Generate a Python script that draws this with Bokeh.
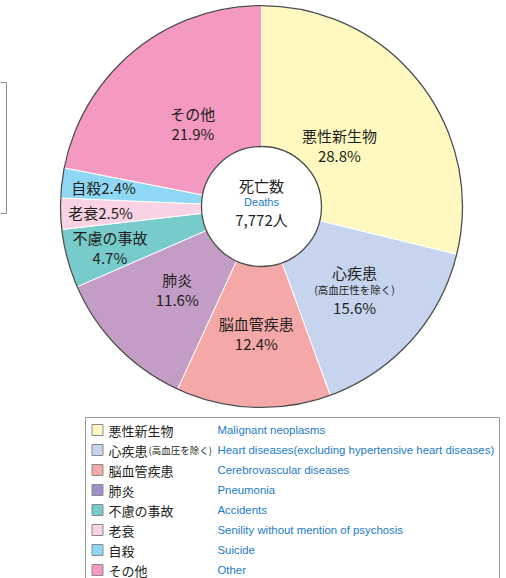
import numpy as np
from bokeh.plotting import figure
from bokeh.models import Range1d
from bokeh.core.properties import value
from bokeh.embed import file_html
from bokeh.resources import INLINE

# ---------------- data ----------------
causes_ja = ["悪性新生物", "心疾患", "脳血管疾患", "肺炎", "不慮の事故", "老衰", "自殺", "その他"]
causes_en = ["Malignant neoplasms",
             "Heart diseases(excluding hypertensive heart diseases)",
             "Cerebrovascular diseases", "Pneumonia", "Accidents",
             "Senility without mention of psychosis", "Suicide", "Other"]
heart_note_pie = "(高血圧性を除く)"
heart_note_legend = "(高血圧を除く)"
shares = [28.8, 15.6, 12.4, 11.6, 4.7, 2.5, 2.4, 21.9]
center_title = "死亡数"
center_title_en = "Deaths"
center_total = "7,772人"

# ---------------- styles ----------------
pie_colors = ["#fff9c1", "#c6d4ee", "#f5a8a8", "#c49dc7", "#77cbcb", "#f9d2e3", "#8ed8f6", "#f49ac2"]
legend_colors = ["#fff9c1", "#c6d4ee", "#f5a8a8", "#9c90c8", "#77cbcb", "#f9d2e3", "#8ed8f6", "#f49ac2"]
JP = value("Noto Sans CJK JP")
EN = value("Liberation Sans")
TXT = "#231f20"
BLUE = "#1a7bc8"

W, H = 506, 578
def Y(px):
    return H - px

p = figure(width=W, height=H, output_backend="svg", toolbar_location=None,
           x_range=Range1d(0, W), y_range=Range1d(0, H), min_border=0)
p.axis.visible = False
p.grid.visible = False
p.outline_line_color = None
p.background_fill_color = "white"

# left partial frame
p.quad(left=-5, right=6, top=Y(82), bottom=Y(213), fill_color=None,
       line_color="#8a8a8a", line_width=1)

# ---------------- donut ----------------
cx, cy = 261, Y(206)
r_out, r_in = 201, 60
frac = np.array(shares) / sum(shares)
c1 = np.cumsum(frac)
c0 = c1 - frac
start = np.pi / 2 - 2 * np.pi * c0
end = np.pi / 2 - 2 * np.pi * c1

p.annular_wedge(x=cx, y=cy, inner_radius=r_in, outer_radius=r_out,
                start_angle=start, end_angle=end, direction="clock",
                fill_color=pie_colors, line_color="white", line_width=1)
p.circle(x=[cx], y=[cy], radius=r_out, fill_color=None, line_color="#4d4d4d", line_width=1.3)
p.circle(x=[cx], y=[cy], radius=r_in, fill_color="white", line_color="#4d4d4d", line_width=1.3)

# slice labels (placed along each slice's mid angle)
label_r = [99, 125, 127, 118, 157, 161, 159, 108]
mid = (start + end) / 2
lx = cx + np.array(label_r) * np.cos(mid)
ly = cy + np.array(label_r) * np.sin(mid)

for i, name in enumerate(causes_ja):
    pct = f"{shares[i]:.1f}%"
    x, y = lx[i], ly[i]
    if i in (5, 6):  # single line
        p.text(x=[x], y=[y], text=[name + pct], text_font=JP, text_font_size="15px",
               text_color=TXT, text_align="center", text_baseline="middle")
    elif i == 1:
        p.text(x=[x], y=[y + 17], text=[name], text_font=JP, text_font_size="15px",
               text_color=TXT, text_align="center", text_baseline="middle")
        p.text(x=[x], y=[y], text=[heart_note_pie], text_font=JP, text_font_size="10.5px",
               text_color=TXT, text_align="center", text_baseline="middle")
        p.text(x=[x], y=[y - 18], text=[pct], text_font=JP, text_font_size="15px",
               text_color=TXT, text_align="center", text_baseline="middle")
    else:
        p.text(x=[x], y=[y + 10], text=[name], text_font=JP, text_font_size="15px",
               text_color=TXT, text_align="center", text_baseline="middle")
        p.text(x=[x], y=[y - 10], text=[pct], text_font=JP, text_font_size="15px",
               text_color=TXT, text_align="center", text_baseline="middle")

# center texts
p.text(x=[cx], y=[Y(185)], text=[center_title], text_font=JP, text_font_size="15px",
       text_color=TXT, text_align="center", text_baseline="middle")
p.text(x=[cx], y=[Y(201)], text=[center_title_en], text_font=EN, text_font_size="11px",
       text_color=BLUE, text_align="center", text_baseline="middle")
p.text(x=[cx], y=[Y(219)], text=[center_total], text_font=JP, text_font_size="15px",
       text_color=TXT, text_align="center", text_baseline="middle")

# ---------------- legend ----------------
p.quad(left=85, right=499, top=Y(417), bottom=Y(595), fill_color=None,
       line_color="#9a9a9a", line_width=1)
rows = np.arange(len(causes_ja))
ry = np.array([Y(429.5 + 20 * i) for i in rows])
p.rect(x=97, y=ry, width=11, height=11, fill_color=legend_colors,
       line_color="#8a8a8a", line_width=1)
p.text(x=108, y=ry, text=causes_ja, text_font=JP, text_font_size="13px",
       text_color=TXT, text_align="left", text_baseline="middle")
p.text(x=[148], y=[ry[1]], text=[heart_note_legend], text_font=JP, text_font_size="9.5px",
       text_color=TXT, text_align="left", text_baseline="middle")
p.text(x=217, y=ry, text=causes_en, text_font=EN, text_font_size="11.4px",
       text_color=BLUE, text_align="left", text_baseline="middle")

open("out.html", "w").write(file_html(p, INLINE))
